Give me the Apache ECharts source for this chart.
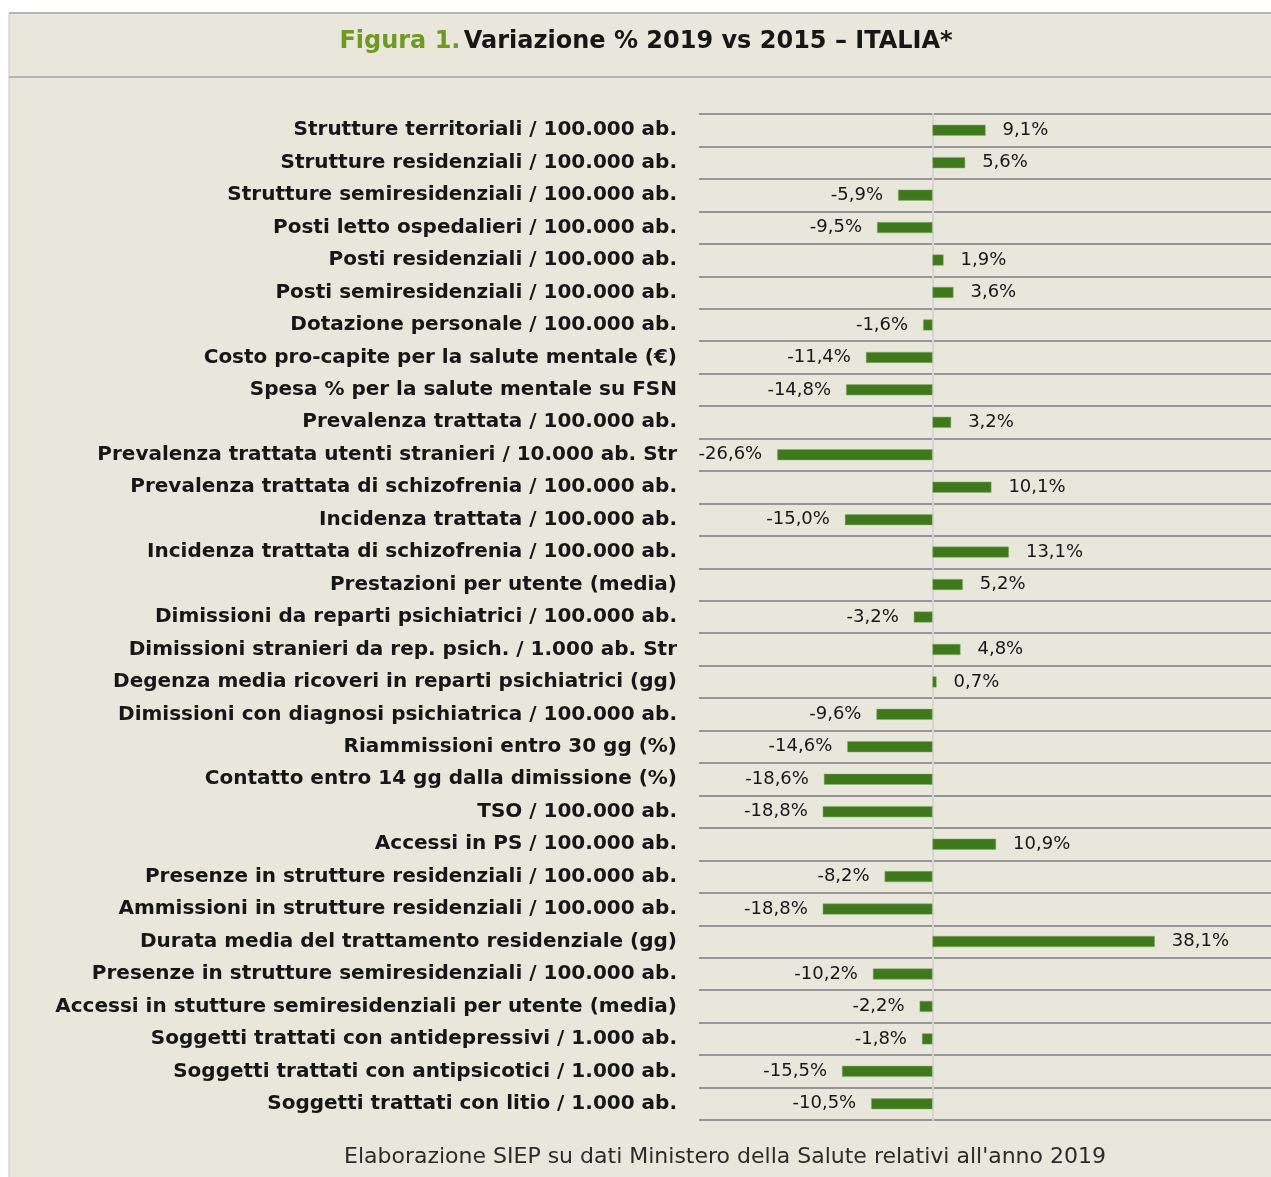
<!DOCTYPE html>
<html>
<head>
<meta charset="utf-8">
<title>Variazione % 2019 vs 2015 - ITALIA</title>
<script src="https://cdn.jsdelivr.net/npm/echarts@6/dist/echarts.min.js"></script>
<style>
  html, body { margin: 0; padding: 0; background: #fff; }
  #chart { width: 1271px; height: 1177px; }
</style>
</head>
<body>
<div id="chart"></div>
<script>
// categorie (dall'alto verso il basso)
const categories = [
  'Strutture territoriali / 100.000 ab.',
  'Strutture residenziali / 100.000 ab.',
  'Strutture semiresidenziali / 100.000 ab.',
  'Posti letto ospedalieri / 100.000 ab.',
  'Posti residenziali / 100.000 ab.',
  'Posti semiresidenziali / 100.000 ab.',
  'Dotazione personale / 100.000 ab.',
  'Costo pro-capite per la salute mentale (€)',
  'Spesa % per la salute mentale su FSN',
  'Prevalenza trattata / 100.000 ab.',
  'Prevalenza trattata utenti stranieri / 10.000 ab. Str',
  'Prevalenza trattata di schizofrenia / 100.000 ab.',
  'Incidenza trattata / 100.000 ab.',
  'Incidenza trattata di schizofrenia / 100.000 ab.',
  'Prestazioni per utente (media)',
  'Dimissioni da reparti psichiatrici / 100.000 ab.',
  'Dimissioni stranieri da rep. psich. / 1.000 ab. Str',
  'Degenza media ricoveri in reparti psichiatrici (gg)',
  'Dimissioni con diagnosi psichiatrica / 100.000 ab.',
  'Riammissioni entro 30 gg (%)',
  'Contatto entro 14 gg dalla dimissione (%)',
  'TSO / 100.000 ab.',
  'Accessi in PS / 100.000 ab.',
  'Presenze in strutture residenziali / 100.000 ab.',
  'Ammissioni in strutture residenziali / 100.000 ab.',
  'Durata media del trattamento residenziale (gg)',
  'Presenze in strutture semiresidenziali / 100.000 ab.',
  'Accessi in stutture semiresidenziali per utente (media)',
  'Soggetti trattati con antidepressivi / 1.000 ab.',
  'Soggetti trattati con antipsicotici / 1.000 ab.',
  'Soggetti trattati con litio / 1.000 ab.'
]

// variazione % 2019 vs 2015
const variazione = [
  9.1, 5.6, -5.9, -9.5, 1.9, 3.6, -1.6, -11.4, -14.8, 3.2,
  -26.6, 10.1, -15.0, 13.1, 5.2, -3.2, 4.8, 0.7, -9.6, -14.6,
  -18.6, -18.8, 10.9, -8.2, -18.8, 38.1, -10.2, -2.2, -1.8, -15.5,
  -10.5
]

const titolo1 = 'Figura 1.'
const titolo2 = 'Variazione % 2019 vs 2015 – ITALIA*'
const fonte = "Elaborazione SIEP su dati Ministero della Salute relativi all'anno 2019"

const fontFam = '"DejaVu Sans", sans-serif'

const chart = echarts.init(document.getElementById('chart'))

// etichette a destra per i positivi, a sinistra per i negativi
const barData = variazione.map((v) => {
  return {
    value: v,
    label: {
      position: v < 0 ? 'left' : 'right',
      distance: v < 0 ? 15 : 17
    }
  }
})

const option = {
  backgroundColor: '#ffffff',
  animation: false,
  graphic: [
    {
      type: 'rect',
      z: -10,
      shape: { x: 9, y: 13, width: 1270, height: 1170 },
      style: { fill: '#e9e6dc', stroke: '#c8c8c8', lineWidth: 1 }
    },
    {
      type: 'line',
      z: -9,
      shape: { x1: 9, y1: 13, x2: 1271, y2: 13 },
      style: { stroke: '#b4b4b4', lineWidth: 2 }
    },
    {
      type: 'line',
      z: -9,
      shape: { x1: 9, y1: 77, x2: 1271, y2: 77 },
      style: { stroke: '#b4b4b4', lineWidth: 2 }
    },
    {
      type: 'text',
      x: 646,
      y: 42,
      style: {
        text: '{g|' + titolo1 + '} {b|' + titolo2 + '}',
        align: 'center',
        verticalAlign: 'middle',
        rich: {
          g: { fontFamily: fontFam, fontSize: 24, fontWeight: 'bold', fill: '#6e9a22' },
          b: { fontFamily: fontFam, fontSize: 24, fontWeight: 'bold', fill: '#161616' }
        }
      }
    },
    {
      type: 'text',
      x: 725,
      y: 1157,
      style: {
        text: fonte,
        align: 'center',
        verticalAlign: 'middle',
        fontFamily: fontFam,
        fontSize: 22,
        fill: '#2b2b2b'
      }
    }
  ],
  grid: {
    left: 699,
    right: 0,
    top: 114,
    bottom: 57
  },
  xAxis: {
    type: 'value',
    min: -40,
    max: 58,
    axisLine: { show: false },
    axisTick: { show: false },
    axisLabel: { show: false },
    splitLine: { show: false }
  },
  yAxis: {
    type: 'category',
    inverse: true,
    data: categories,
    axisLine: {
      show: true,
      onZero: true,
      lineStyle: { color: '#d4d4d4', width: 2 }
    },
    axisTick: { show: false },
    axisLabel: {
      margin: 22,
      fontFamily: fontFam,
      fontSize: 20,
      fontWeight: 'bold',
      color: '#161616'
    },
    splitLine: {
      show: true,
      lineStyle: { color: '#969696', width: 2 }
    }
  },
  series: [
    {
      type: 'bar',
      data: barData,
      barWidth: 11,
      itemStyle: {
        color: '#3e7a1b',
        borderColor: '#8fae72',
        borderWidth: 0.5
      },
      label: {
        show: true,
        fontFamily: fontFam,
        fontSize: 18,
        color: '#161616',
        formatter: (p) => p.value.toFixed(1).replace('.', ',') + '%'
      }
    }
  ]
}

chart.setOption(option)
</script>
</body>
</html>
